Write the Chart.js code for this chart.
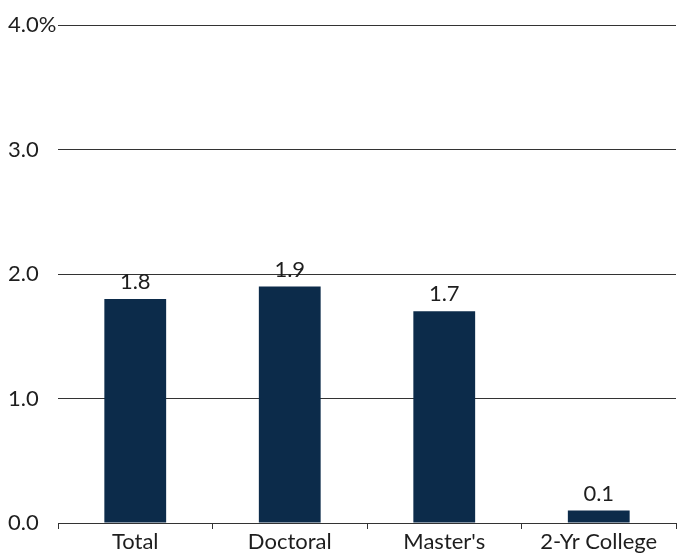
<!DOCTYPE html>
<html>
<head>
<meta charset="utf-8">
<script src="https://cdn.jsdelivr.net/npm/chart.js@4"></script>
<style>
  html, body { margin: 0; padding: 0; background: #fff; }
  .wrap { width: 678px; height: 554px; position: relative; }
</style>
</head>
<body>
<div class="wrap"><canvas id="chart"></canvas></div>
<script>
// degree types and rate (%)
const categories = ["Total", "Doctoral", "Master's", "2-Yr College"];
const rates = [1.8, 1.9, 1.7, 0.1];
const yTicks = [0, 1, 2, 3, 4];

const FONT = "Lato, 'Open Sans', sans-serif";
const NAVY = "#0c2b4a";
const INK = "#1e1e1e";

// value labels above each bar
const barLabels = {
  id: "barLabels",
  afterDatasetsDraw(chart) {
    const ctx = chart.ctx;
    const meta = chart.getDatasetMeta(0);
    ctx.save();
    ctx.font = "22px " + FONT;
    ctx.fillStyle = INK;
    ctx.textAlign = "center";
    ctx.textBaseline = "bottom";
    meta.data.forEach((bar, i) => {
      ctx.fillText(rates[i].toFixed(1), bar.x, bar.y - 6);
    });
    ctx.restore();
  }
};

const ctx = document.getElementById("chart").getContext("2d");
new Chart(ctx, {
  type: "bar",
  data: {
    labels: categories,
    datasets: [{
      data: rates,
      backgroundColor: NAVY,
      categoryPercentage: 1,
      barPercentage: 0.4
    }]
  },
  options: {
    responsive: true,
    maintainAspectRatio: false,
    animation: false,
    layout: { padding: { top: 25, right: 2, left: 8 } },
    plugins: { legend: { display: false }, tooltip: { enabled: false } },
    scales: {
      x: {
        grid: { offset: true, drawOnChartArea: false, drawTicks: true, tickLength: 6, color: "#333" },
        border: { display: true, color: "#333" },
        ticks: { color: INK, font: { family: FONT, size: 22 }, padding: 0, maxRotation: 0 },
        afterFit(scale) { scale.height = 31; }
      },
      y: {
        min: 0,
        max: 4,
        afterBuildTicks(scale) { scale.ticks = yTicks.map(v => ({ value: v })); },
        grid: { drawTicks: false, color: "#333" },
        border: { display: false },
        ticks: {
          color: INK,
          font: { family: FONT, size: 22 },
          crossAlign: "far",
          padding: 0,
          showLabelBackdrop: true,
          backdropColor: "#fff",
          backdropPadding: { top: 0, bottom: 0, left: 0, right: 4 },
          callback: v => v === 4 ? v.toFixed(1) + "%" : v.toFixed(1)
        },
        afterFit(scale) { scale.width = 50; }
      }
    }
  },
  plugins: [barLabels]
});
</script>
</body>
</html>
